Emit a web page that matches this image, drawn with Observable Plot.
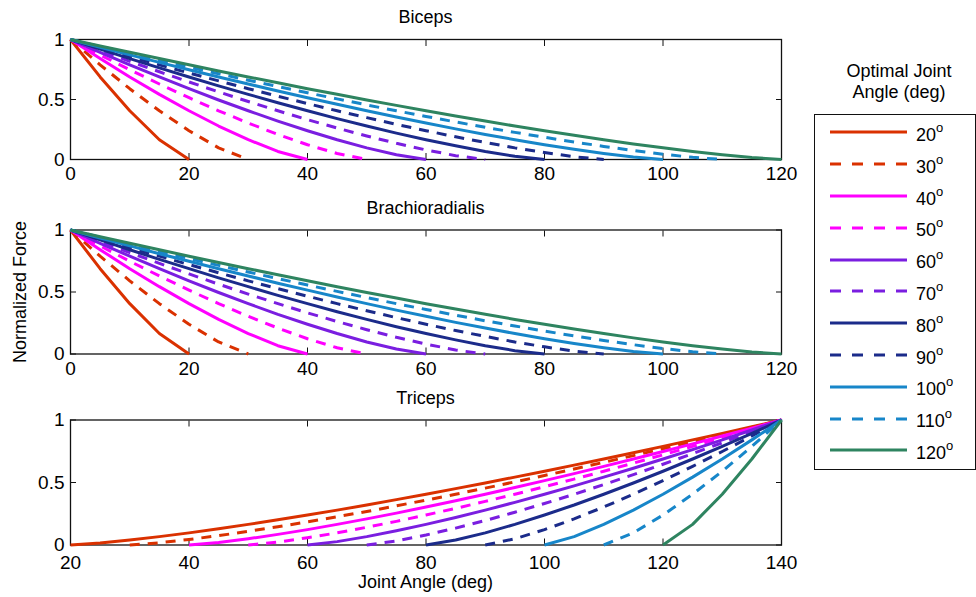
<!DOCTYPE html>
<html>
<head>
<meta charset="utf-8">
<script src="https://cdn.jsdelivr.net/npm/d3@7"></script>
<script src="https://cdn.jsdelivr.net/npm/@observablehq/plot@0.6"></script>
<style>
  html, body { margin: 0; padding: 0; background: #fff; }
  #root { position: relative; width: 976px; height: 597px; overflow: hidden; font-family: "Liberation Sans", Arial, sans-serif; color: #000; }
  .abs { position: absolute; }
  .title { position: absolute; width: 300px; text-align: center; font-size: 18px; line-height: 22px; }
  .lg-row { position: absolute; left: 0; height: 32px; display: flex; align-items: center; }
  .lg-row span.lab { font-size: 18px; margin-left: 8px; position: relative; top: 3px; }
  .lg-row sup { font-size: 13px; position: relative; top: -3px; vertical-align: 6px; line-height: 0; }
</style>
</head>
<body>
<div id="root"></div>
<script>
// ---- data ----
const optimalAngles = [20, 30, 40, 50, 60, 70, 80, 90, 100, 110, 120];
const seriesColors = ["#da3100", "#da3100", "#ff00ff", "#ff00ff", "#7a1ee0", "#7a1ee0", "#1b2b8a", "#1b2b8a", "#1786c9", "#1786c9", "#2e8460"];
const seriesDashed = [false, true, false, true, false, true, false, true, false, true, false];

// joint angle sample grids (deg)
const upperArmAngles = [0,5,10,15,20,25,30,35,40,45,50,55,60,65,70,75,80,85,90,95,100,105,110,115,120];
const tricepsAngles = [20,25,30,35,40,45,50,55,60,65,70,75,80,85,90,95,100,105,110,115,120,125,130,135,140];

// Biceps: normalized force, starting at 0 deg, one list per optimal angle
const bicepsForce = [
  [1, 0.688, 0.406, 0.165, 0],
  [1, 0.789, 0.590, 0.406, 0.240, 0.097, 0],
  [1, 0.841, 0.688, 0.543, 0.406, 0.279, 0.165, 0.067, 0],
  [1, 0.872, 0.748, 0.629, 0.515, 0.406, 0.304, 0.209, 0.123, 0.050, 0],
  [1, 0.893, 0.789, 0.688, 0.590, 0.496, 0.406, 0.320, 0.240, 0.165, 0.097, 0.040, 0],
  [1, 0.908, 0.818, 0.731, 0.646, 0.563, 0.483, 0.406, 0.332, 0.262, 0.196, 0.135, 0.080, 0.032, 0],
  [1, 0.920, 0.841, 0.763, 0.688, 0.614, 0.543, 0.473, 0.406, 0.341, 0.279, 0.220, 0.165, 0.114, 0.067, 0.027, 0],
  [1, 0.928, 0.858, 0.789, 0.721, 0.655, 0.590, 0.527, 0.466, 0.406, 0.349, 0.293, 0.240, 0.189, 0.142, 0.097, 0.058, 0.023, 0],
  [1, 0.935, 0.872, 0.809, 0.748, 0.688, 0.629, 0.571, 0.515, 0.460, 0.406, 0.354, 0.304, 0.255, 0.209, 0.165, 0.123, 0.085, 0.050, 0.020, 0],
  [1, 0.941, 0.884, 0.827, 0.770, 0.715, 0.661, 0.608, 0.556, 0.505, 0.455, 0.406, 0.359, 0.313, 0.268, 0.226, 0.185, 0.146, 0.109, 0.075, 0.044, 0.018, 0],
  [1, 0.946, 0.893, 0.841, 0.789, 0.738, 0.688, 0.639, 0.590, 0.543, 0.496, 0.451, 0.406, 0.363, 0.320, 0.279, 0.240, 0.202, 0.165, 0.130, 0.097, 0.067, 0.040, 0.016, 0]
];

// Brachioradialis: same profiles
const brachioradialisForce = [
  [1, 0.688, 0.406, 0.165, 0],
  [1, 0.789, 0.590, 0.406, 0.240, 0.097, 0],
  [1, 0.841, 0.688, 0.543, 0.406, 0.279, 0.165, 0.067, 0],
  [1, 0.872, 0.748, 0.629, 0.515, 0.406, 0.304, 0.209, 0.123, 0.050, 0],
  [1, 0.893, 0.789, 0.688, 0.590, 0.496, 0.406, 0.320, 0.240, 0.165, 0.097, 0.040, 0],
  [1, 0.908, 0.818, 0.731, 0.646, 0.563, 0.483, 0.406, 0.332, 0.262, 0.196, 0.135, 0.080, 0.032, 0],
  [1, 0.920, 0.841, 0.763, 0.688, 0.614, 0.543, 0.473, 0.406, 0.341, 0.279, 0.220, 0.165, 0.114, 0.067, 0.027, 0],
  [1, 0.928, 0.858, 0.789, 0.721, 0.655, 0.590, 0.527, 0.466, 0.406, 0.349, 0.293, 0.240, 0.189, 0.142, 0.097, 0.058, 0.023, 0],
  [1, 0.935, 0.872, 0.809, 0.748, 0.688, 0.629, 0.571, 0.515, 0.460, 0.406, 0.354, 0.304, 0.255, 0.209, 0.165, 0.123, 0.085, 0.050, 0.020, 0],
  [1, 0.941, 0.884, 0.827, 0.770, 0.715, 0.661, 0.608, 0.556, 0.505, 0.455, 0.406, 0.359, 0.313, 0.268, 0.226, 0.185, 0.146, 0.109, 0.075, 0.044, 0.018, 0],
  [1, 0.946, 0.893, 0.841, 0.789, 0.738, 0.688, 0.639, 0.590, 0.543, 0.496, 0.451, 0.406, 0.363, 0.320, 0.279, 0.240, 0.202, 0.165, 0.130, 0.097, 0.067, 0.040, 0.016, 0]
];

// Triceps: normalized force, ending at 140 deg, one list per optimal angle
const tricepsForce = [
  [0, 0.016, 0.040, 0.067, 0.097, 0.130, 0.165, 0.202, 0.240, 0.279, 0.320, 0.363, 0.406, 0.451, 0.496, 0.543, 0.590, 0.639, 0.688, 0.738, 0.789, 0.841, 0.893, 0.946, 1],
  [0, 0.018, 0.044, 0.075, 0.109, 0.146, 0.185, 0.226, 0.268, 0.313, 0.359, 0.406, 0.455, 0.505, 0.556, 0.608, 0.661, 0.715, 0.770, 0.827, 0.884, 0.941, 1],
  [0, 0.020, 0.050, 0.085, 0.123, 0.165, 0.209, 0.255, 0.304, 0.354, 0.406, 0.460, 0.515, 0.571, 0.629, 0.688, 0.748, 0.809, 0.872, 0.935, 1],
  [0, 0.023, 0.058, 0.097, 0.142, 0.189, 0.240, 0.293, 0.349, 0.406, 0.466, 0.527, 0.590, 0.655, 0.721, 0.789, 0.858, 0.928, 1],
  [0, 0.027, 0.067, 0.114, 0.165, 0.220, 0.279, 0.341, 0.406, 0.473, 0.543, 0.614, 0.688, 0.763, 0.841, 0.920, 1],
  [0, 0.032, 0.080, 0.135, 0.196, 0.262, 0.332, 0.406, 0.483, 0.563, 0.646, 0.731, 0.818, 0.908, 1],
  [0, 0.040, 0.097, 0.165, 0.240, 0.320, 0.406, 0.496, 0.590, 0.688, 0.789, 0.893, 1],
  [0, 0.050, 0.123, 0.209, 0.304, 0.406, 0.515, 0.629, 0.748, 0.872, 1],
  [0, 0.067, 0.165, 0.279, 0.406, 0.543, 0.688, 0.841, 1],
  [0, 0.097, 0.240, 0.406, 0.590, 0.789, 1],
  [0, 0.165, 0.406, 0.688, 1]
];

const upperTicks = [0, 20, 40, 60, 80, 100, 120];
const tricepsTicks = [20, 40, 60, 80, 100, 120, 140];
const forceTicks = [0, 0.5, 1];
const panelTitles = ["Biceps", "Brachioradialis", "Triceps"];
const xAxisLabel = "Joint Angle (deg)";
const yAxisLabel = "Normalized Force";
const legendTitle = ["Optimal Joint", "Angle (deg)"];

// ---- build ----
const FONT = '"Liberation Sans", Arial, sans-serif';
const root = document.getElementById("root");
const DASH = "10,8";

function rowsFor(grid, values, alignEnd) {
  const off = alignEnd ? grid.length - values.length : 0;
  return values.map((v, i) => ({x: grid[off + i], y: v}));
}

function panel({forces, grid, alignEnd, xDomain, xTicks, top, height, marginTop, marginBottom, xPad = 7}) {
  const lines = optimalAngles.map((a, k) =>
    Plot.line(rowsFor(grid, forces[k], alignEnd), {
      x: "x", y: "y",
      stroke: seriesColors[k],
      strokeWidth: 3,
      strokeDasharray: seriesDashed[k] ? DASH : null,
      strokeLinejoin: "round",
      strokeLinecap: "butt"
    })
  );
  const blank = () => "";
  const plain = (d) => String(d);
  const svg = Plot.plot({
    width: 800, height,
    marginLeft: 70, marginRight: 19, marginTop, marginBottom,
    x: {domain: xDomain},
    y: {domain: [0, 1]},
    style: {fontFamily: FONT, fontSize: "19px", color: "#000", background: "transparent", overflow: "visible"},
    marks: [
      Plot.frame({stroke: "#111", strokeWidth: 1.3}),
      Plot.axisX(xTicks, {anchor: "bottom", tickSize: 0, tickPadding: xPad, label: null, fontSize: 19, tickFormat: plain}),
      Plot.axisX(xTicks, {anchor: "bottom", tickSize: -6, tickFormat: blank, label: null, stroke: "#111"}),
      Plot.axisX(xTicks, {anchor: "top", tickSize: -6, tickFormat: blank, label: null, stroke: "#111"}),
      Plot.axisY(forceTicks, {anchor: "left", tickSize: 0, tickPadding: 6, label: null, fontSize: 19, tickFormat: plain}),
      Plot.axisY(forceTicks, {anchor: "left", tickSize: -6, tickFormat: blank, label: null, stroke: "#111"}),
      Plot.axisY(forceTicks, {anchor: "right", tickSize: -6, tickFormat: blank, label: null, stroke: "#111"}),
      ...lines
    ]
  });
  svg.style.position = "absolute";
  svg.style.left = "0px";
  svg.style.top = top + "px";
  root.appendChild(svg);
}

panel({forces: bicepsForce, grid: upperArmAngles, alignEnd: false, xDomain: [0, 120], xTicks: upperTicks,
       top: 0, height: 186, marginTop: 39, marginBottom: 27});
panel({forces: brachioradialisForce, grid: upperArmAngles, alignEnd: false, xDomain: [0, 120], xTicks: upperTicks,
       top: 190, height: 186, marginTop: 39.5, marginBottom: 22.5});
panel({forces: tricepsForce, grid: tricepsAngles, alignEnd: true, xDomain: [20, 140], xTicks: tricepsTicks,
       top: 380, height: 217, marginTop: 39.5, marginBottom: 52.5, xPad: 10});

// titles
const titleCenters = [17, 208, 398];
panelTitles.forEach((t, i) => {
  const d = document.createElement("div");
  d.className = "title";
  d.textContent = t;
  d.style.left = (425.5 - 150) + "px";
  d.style.top = (titleCenters[i] - 11) + "px";
  root.appendChild(d);
});

// x label
{
  const d = document.createElement("div");
  d.className = "title";
  d.textContent = xAxisLabel;
  d.style.left = (425.5 - 150) + "px";
  d.style.top = (582 - 11) + "px";
  root.appendChild(d);
}
// y label
{
  const d = document.createElement("div");
  d.className = "title";
  d.textContent = yAxisLabel;
  d.style.left = (20 - 150) + "px";
  d.style.top = (292 - 11) + "px";
  d.style.transform = "rotate(-90deg)";
  root.appendChild(d);
}

// legend title
legendTitle.forEach((t, i) => {
  const d = document.createElement("div");
  d.className = "title";
  d.textContent = t;
  d.style.left = (899 - 150) + "px";
  d.style.top = (71 + i * 21 - 11) + "px";
  root.appendChild(d);
});

// legend box
const box = document.createElement("div");
box.className = "abs";
Object.assign(box.style, {left: "814px", top: "114px", width: "162px", height: "356px",
  border: "1.3px solid #111", boxSizing: "border-box", background: "#fff"});
root.appendChild(box);
optimalAngles.forEach((a, k) => {
  const row = document.createElement("div");
  row.className = "lg-row";
  row.style.top = (18.7 + k * 31.8 - 16 - 1.3) + "px";
  const ns = "http://www.w3.org/2000/svg";
  const s = document.createElementNS(ns, "svg");
  s.setAttribute("width", "93");
  s.setAttribute("height", "32");
  const ln = document.createElementNS(ns, "line");
  ln.setAttribute("x1", "15"); ln.setAttribute("x2", "92");
  ln.setAttribute("y1", "16"); ln.setAttribute("y2", "16");
  ln.setAttribute("stroke", seriesColors[k]);
  ln.setAttribute("stroke-width", "3");
  if (seriesDashed[k]) ln.setAttribute("stroke-dasharray", "11,11");
  s.appendChild(ln);
  row.appendChild(s);
  const lab = document.createElement("span");
  lab.className = "lab";
  lab.innerHTML = a + "<sup>o</sup>";
  row.appendChild(lab);
  box.appendChild(row);
});
</script>
</body>
</html>
